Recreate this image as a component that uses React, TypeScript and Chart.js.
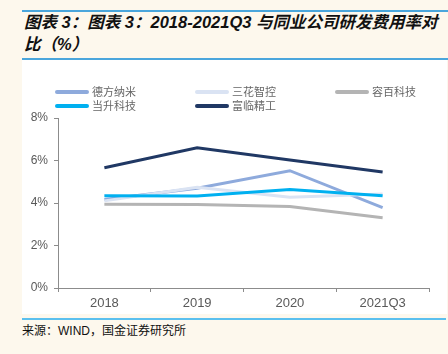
import React, { useEffect, useRef } from "react";
import { Chart, registerables } from "chart.js";
Chart.register(...registerables);

const categories = ["2018", "2019", "2020", "2021Q3"];
const seriesNames = ["德方纳米", "三花智控", "容百科技", "当升科技", "富临精工"];
const defang = [4.17, 4.69, 5.52, 3.78];
const sanhua = [4.1, 4.74, 4.27, 4.42];
const rongbai = [3.94, 3.93, 3.83, 3.31];
const dangsheng = [4.34, 4.33, 4.64, 4.34];
const fulin = [5.66, 6.6, 6.02, 5.46];
const yTicks = [0, 2, 4, 6, 8];

const seriesValues = [defang, sanhua, rongbai, dangsheng, fulin];
const seriesColors = ["#8eaadc", "#dae3f3", "#b4b4b4", "#00b0f0", "#203864"];
const seriesOrder = [4, 3, 5, 2, 1];

const legendPos = [
  { x: 33, y: 32 },
  { x: 173, y: 32 },
  { x: 313, y: 32 },
  { x: 33, y: 46 },
  { x: 173, y: 46 },
];

const legendPlugin = {
  id: "customLegend",
  afterDraw(chart: any) {
    const ctx = chart.ctx;
    ctx.save();
    chart.data.datasets.forEach((ds: any, i: number) => {
      const p = legendPos[i];
      ctx.strokeStyle = ds.borderColor;
      ctx.lineWidth = 4;
      ctx.lineCap = "round";
      ctx.beginPath();
      ctx.moveTo(p.x + 2, p.y);
      ctx.lineTo(p.x + 32, p.y);
      ctx.stroke();
      ctx.fillStyle = "#666666";
      ctx.font = '11px "Noto Sans CJK SC"';
      ctx.textBaseline = "middle";
      ctx.textAlign = "left";
      ctx.fillText(ds.label, p.x + 37, p.y);
    });
    ctx.restore();
  },
};

export default function App() {
  const ref = useRef<HTMLCanvasElement>(null);
  useEffect(() => {
    if (!ref.current) return;
    const chart = new Chart(ref.current, {
      type: "line",
      data: {
        labels: categories,
        datasets: seriesNames.map((name, i) => ({
          label: name,
          data: seriesValues[i],
          borderColor: seriesColors[i],
          backgroundColor: seriesColors[i],
          borderWidth: 3,
          pointRadius: 0,
          tension: 0,
          order: seriesOrder[i],
        })),
      },
      options: {
        animation: false,
        responsive: false,
        maintainAspectRatio: false,
        layout: { padding: { left: 0, right: 18, top: 58, bottom: 0 } },
        plugins: { legend: { display: false }, tooltip: { enabled: false } },
        scales: {
          x: {
            offset: true,
            grid: {
              offset: true,
              drawOnChartArea: false,
              drawTicks: true,
              tickLength: 4,
              color: "#8c8c8c",
            },
            border: { color: "#8c8c8c", width: 1 },
            ticks: {
              color: "#595959",
              font: { family: "Liberation Sans", size: 13 },
              padding: 4,
              maxRotation: 0,
            },
            afterFit(axis: any) {
              axis.height = 25;
            },
          },
          y: {
            min: 0,
            max: 8,
            afterBuildTicks(axis: any) {
              axis.ticks = yTicks.map((v) => ({ value: v }));
            },
            grid: {
              drawOnChartArea: false,
              drawTicks: true,
              tickLength: 4,
              color: "#8c8c8c",
            },
            border: { color: "#8c8c8c", width: 1 },
            ticks: {
              color: "#595959",
              font: { family: "Liberation Sans", size: 12 },
              padding: 6,
              callback: (v: any) => v + "%",
            },
            afterFit(axis: any) {
              axis.width = 36;
            },
          },
        },
      },
      plugins: [legendPlugin],
    });
    return () => chart.destroy();
  }, []);

  return (
    <div
      style={{
        position: "absolute",
        left: 0,
        top: 0,
        width: 448,
        height: 354,
        background: "#fdf8ed",
        overflow: "hidden",
      }}
    >
      <div style={{ position: "absolute", left: 22, top: 10, width: 426, height: 2, background: "#4aa6dc" }} />
      <div
        style={{
          position: "absolute",
          left: 24,
          top: 11,
          width: 430,
          fontFamily: '"Liberation Sans", "Noto Sans CJK SC"',
          fontWeight: "bold",
          fontStyle: "italic",
          fontSize: 16.5,
          lineHeight: "22px",
          color: "#111",
          whiteSpace: "nowrap",
        }}
      >
        <div>图表 3：图表 3：2018-2021Q3 与同业公司研发费用率对</div>
        <div>比（%）</div>
      </div>
      <div style={{ position: "absolute", left: 22, top: 58, width: 426, height: 2, background: "#4aa6dc" }} />
      <div style={{ position: "absolute", left: 22, top: 60, width: 425, height: 254, background: "#ffffff" }}>
        <canvas ref={ref} width={425} height={253} style={{ display: "block", width: 425, height: 253 }} />
      </div>
      <div style={{ position: "absolute", left: 22, top: 318, width: 424, height: 2, background: "#5bc0ee" }} />
      <div
        style={{
          position: "absolute",
          left: 22,
          top: 323,
          fontFamily: '"Liberation Sans", "Noto Sans CJK SC"',
          fontSize: 12,
          lineHeight: "16px",
          color: "#111",
          whiteSpace: "nowrap",
        }}
      >
        来源：WIND，国金证券研究所
      </div>
    </div>
  );
}
